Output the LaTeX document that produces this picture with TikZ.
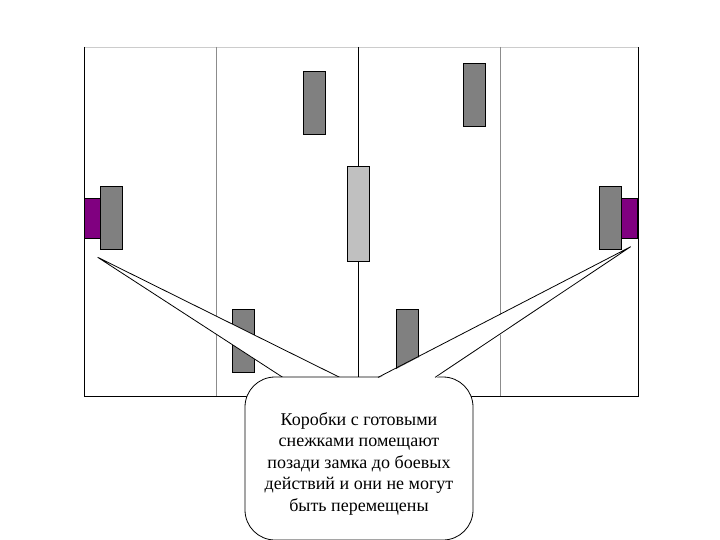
\documentclass[tikz,border=0pt]{standalone}
\usepackage{fontspec}
\setmainfont{Liberation Serif}
\definecolor{boxgray}{HTML}{808080}
\definecolor{coregray}{HTML}{C0C0C0}
\definecolor{lockpurple}{HTML}{800080}

\begin{document}
\begin{tikzpicture}[x=1pt, y=-1pt, line width=0.8pt,
    box/.style = {draw, fill=boxgray, inner sep=0pt, minimum width=22pt, minimum height=63pt},
    door/.style = {draw, fill=lockpurple, inner sep=0pt, minimum width=16.5pt, minimum height=40pt},
    note/.style = {draw, fill=white, rounded corners=30pt, minimum width=228pt, minimum height=163pt}]
    \useasboundingbox (0,0) rectangle (720,540);
    % field
    \draw[black!20] (84,47) -- (638,47);
    \draw (84,47) -- (84,396) -- (638,396) -- (638,47);
    \draw[black!45] (216.5,47) -- (216.5,396);
    \draw[black!45] (500,47) -- (500,396);
    \draw[line width=1.4pt] (358.3,47) -- (358.3,396);
    % boxes
    \node[door] (leftdoor) at (92.7,218.3) {};
    \node[box] (leftbox) at (111.7,218) {};
    \node[door] (rightdoor) at (629.4,218.3) {};
    \node[box] (rightbox) at (610.2,218) {};
    \node[box] (boxa) at (314.5,103.4) {};
    \node[box] (boxb) at (473.9,95.3) {};
    \node[box] (boxc) at (243,340.8) {};
    \node[box] (boxd) at (407.7,340.8) {};
    \node[box, fill=coregray, minimum height=95pt] (core) at (358.5,213.5) {};
    % callout
    \coordinate (tipl) at (97.7,257.3);
    \coordinate (tipr) at (630.7,246.7);
    \filldraw[fill=white] (283,377.5) -- (tipl) -- (340,377.5);
    \node[note] (callout) at (359,458.5) {};
    \fill[white] (378,378.6) -- (tipr) -- (435,378.6) -- cycle;
    \draw (378,377.4) -- (tipr) -- (435,377.4);
    \node[align=center, font=\fontsize{18}{21.5}\selectfont, yshift=-5pt] (caption) at (callout.center)
        {Коробки с готовыми\\снежками помещают\\позади замка до боевых\\действий и они не могут\\быть перемещены};
\end{tikzpicture}
\end{document}
